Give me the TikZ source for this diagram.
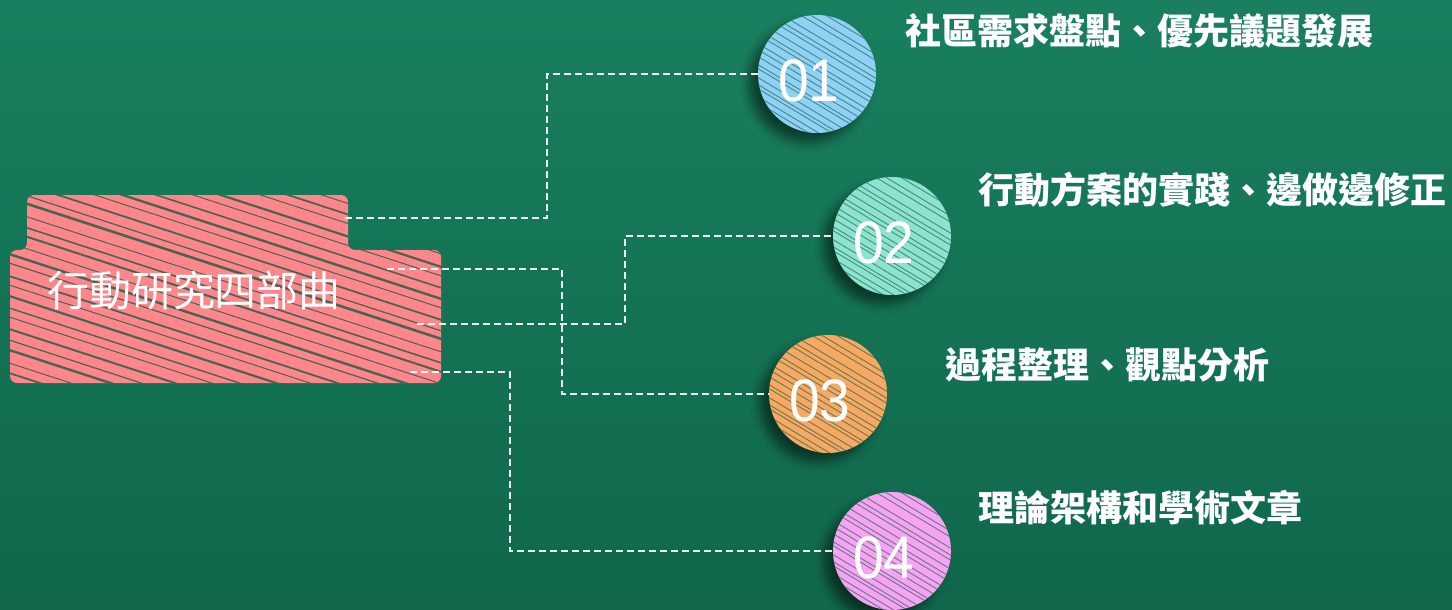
\documentclass[tikz,border=0pt]{standalone}
\usepackage{fontspec}
\setmainfont{Liberation Sans}
\newfontfamily\cjk{Noto Sans CJK TC}
\usetikzlibrary{calc,shadows.blur}
\definecolor{boardlight}{HTML}{197F5F}
\definecolor{boarddark}{HTML}{10674B}
\definecolor{chalk}{HTML}{0C5A41}
\definecolor{rosebox}{HTML}{FF868B}
\definecolor{sky}{HTML}{8FD1F4}
\definecolor{mint}{HTML}{8DE3D0}
\definecolor{peach}{HTML}{F7A862}
\definecolor{orchid}{HTML}{F5A3F2}
\begin{document}
\begin{tikzpicture}[x=1pt,y=-1pt,
  link/.style={white, draw opacity=0.9, line width=1.3pt, dash pattern=on 7pt off 4pt},
  hatch/.style={chalk, draw opacity=0.6, line width=0.9pt},
  disc/.style={circle, minimum size=118pt, inner sep=0pt,
    blur shadow={shadow xshift=-9pt, shadow yshift=-9pt, shadow opacity=50, shadow blur radius=9pt},
    path picture={\foreach \d in {-64,-55,-49,-38,-31,-26,-17,-9,-4,5,11,18,26,30,39,46,50,58,64}
      \draw[hatch] ([shift={(-80,\d-48)}]path picture bounding box.center) -- ++(160,96);}},
  num/.style={text=white, font=\fontsize{60}{60}\selectfont, inner sep=0pt, xscale=0.92},
  head/.style={text=white, anchor=west, inner sep=0pt, font=\cjk\bfseries\fontsize{36}{40}\selectfont},
  title/.style={text=white, inner sep=0pt, font=\cjk\fontsize{42}{46}\selectfont}]
\shade[top color=boardlight, bottom color=boarddark] (0,0) rectangle (1452,610);
\useasboundingbox (0,0) rectangle (1452,610);
% pink box
\fill[rosebox, rounded corners=7pt] (27,195) -- (348,195) -- (348,250) -- (441,250) -- (441,383) -- (10,383) -- (10,250) -- (27,250) -- cycle;
\begin{scope}
\clip[rounded corners=7pt] (27,195) -- (348,195) -- (348,250) -- (441,250) -- (441,383) -- (10,383) -- (10,250) -- (27,250) -- cycle;
\foreach \d/\w in {150/1,161/1.8,170/1,183/2.2,192/1,204/1.6,215/2.4,224/1,236/1.8,247/1.2,255/2.6,268/1,279/1.6,288/2,300/1,311/2.4,320/1.2,333/1.8,342/1,353/2.2,365/1.4,374/1,386/2,397/1.2,407/2.4,420/1,430/1.8,441/1.2}
  \draw[chalk, draw opacity=0.75, line width=\w pt] (0,\d-60) -- ++(460,150);
\end{scope}
\node[title] (title) at (194,291) {行動研究四部曲};
% circles
\node[disc, fill=sky, label={[num, xshift=-9pt, yshift=-7pt]center:01}] (c1) at (817,74) {};
\node[disc, fill=mint, label={[num, xshift=-9pt, yshift=-7pt]center:02}] (c2) at (892,236) {};
\node[disc, fill=peach, label={[num, xshift=-9pt, yshift=-7pt]center:03}] (c3) at (828,394) {};
\node[disc, fill=orchid, label={[num, xshift=-9pt, yshift=-7pt]center:04}] (c4) at (892,551) {};
% headings
\node[head] (h1) at (905,31) {社區需求盤點、優先議題發展};
\node[head] (h2) at (978,190) {行動方案的實踐、邊做邊修正};
\node[head] (h3) at (945,365) {過程整理、觀點分析};
\node[head] (h4) at (978,508) {理論架構和學術文章};
% links
\coordinate (s1) at (345,218);
\coordinate (s2) at (387,269);
\coordinate (s3) at (417,324);
\coordinate (s4) at (410,372);
\coordinate (b1) at (547,0);
\coordinate (b2) at (625,0);
\coordinate (b3) at (562,0);
\coordinate (b4) at (510,0);
\draw[link] (s1) -| (b1 |- c1) -- (c1);
\draw[link] (s3) -| (b2 |- c2) -- (c2);
\draw[link] (s2) -| (b3 |- c3) -- (c3);
\draw[link] (s4) -| (b4 |- c4) -- (c4);
\end{tikzpicture}
\end{document}
